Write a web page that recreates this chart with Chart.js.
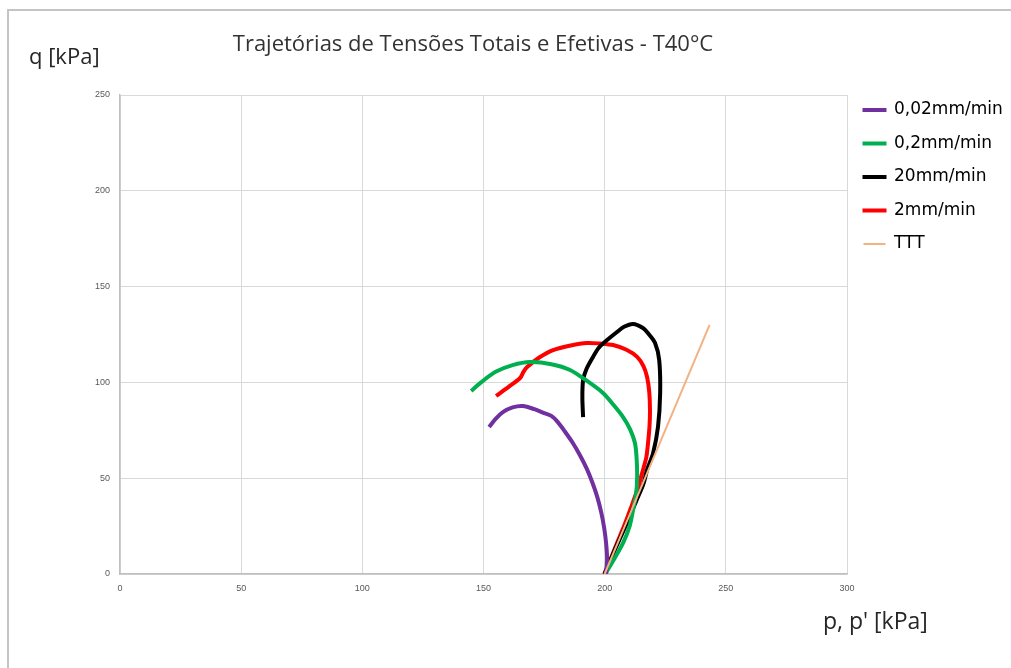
<!DOCTYPE html>
<html>
<head>
<meta charset="utf-8">
<script src="https://cdn.jsdelivr.net/npm/chart.js@4/dist/chart.umd.min.js"></script>
<style>
  html, body { margin: 0; padding: 0; background: #fff; }
  canvas { display: block; }
</style>
</head>
<body>
<canvas id="chart" width="1011" height="668"></canvas>
<script>
// series, as [p, q] in kPa
const series = ['0,02mm/min', '0,2mm/min', '20mm/min', '2mm/min', 'TTT'];
const colors = ['#7030A0', '#00B050', '#000000', '#FF0000', '#F4B183'];

const purple = [[200.6,0],[201,8],[200.6,16],[199.8,24],[198.6,32],[197,40],[195,47.5],[192.6,55],[189.8,62],
  [186.8,68.5],[183.5,74.5],[180.5,79.5],[178,82.5],[175,84],[171,86],[166.3,87.7],[162,87],[158,84.5],[155,81],[152.3,76.7]];
const green = [[200.2,0],[204,8],[207.6,16.2],[210.3,25],[211.7,33.4],[213,42],[213.4,50.6],[213.2,60],[212.5,68.4],
  [210.5,75.5],[207.6,81.9],[203.5,88.5],[199.3,94.5],[193,100.5],[185.7,106.5],[178,109.5],[169.2,110.6],
  [162,109],[155,105.5],[149,100],[144.9,95.5]];
const black = [[200,0],[204,12],[209.2,26.6],[213,38],[216,47],[217.5,54.3],[220,63.2],[222,76.7],[222.9,94.5],
  [222.5,111.7],[220.8,120.6],[218,125.5],[215.8,128.4],[211.7,130.5],[208,129],[205.1,126.3],[201,122.1],
  [197.5,118],[195.2,113.3],[192.5,107],[191.1,101.3],[190.8,92],[191.1,81.9]];
const red = [[199.8,0],[202.5,8],[205.1,16.2],[208,25],[210.5,33.4],[213.5,44],[215.8,54.3],[217.2,61],[217.9,68.4],
  [218.5,77],[218.7,85.6],[218.4,95],[217.5,102.8],[216,108.5],[213.4,113.3],[209,117],[203.5,119.5],[198,120.3],
  [192.7,120.6],[186,119.3],[178.7,116.9],[173,113],[168,108],[166.5,105.5],[165.1,102.3],[160.5,97.8],[155.2,92.9]];
const ttt = [[200,0],[243.3,130]];

const xTicks = [0, 50, 100, 150, 200, 250, 300];
const yTicks = [0, 50, 100, 150, 200, 250];

const allSeries = [purple, green, black, red, ttt];

// frame, title and the two axis captions
const textPlugin = {
  id: 'texts',
  afterLayout(chart) {
    // legend sits a bit above the plot top in the original
    const lg = chart.legend;
    if (lg) { lg.top -= 10; lg.bottom -= 10; }
  },
  beforeDraw(chart) {
    const ctx = chart.ctx;
    ctx.save();
    ctx.fillStyle = '#fff';
    ctx.fillRect(0, 0, chart.width, chart.height);
    ctx.strokeStyle = '#c4c4c4';
    ctx.lineWidth = 2;
    ctx.beginPath();
    ctx.moveTo(8, chart.height);
    ctx.lineTo(8, 10);
    ctx.lineTo(chart.width, 10);
    ctx.stroke();
    ctx.restore();
  },
  afterDraw(chart) {
    const ctx = chart.ctx;
    ctx.save();
    ctx.fillStyle = '#333';
    ctx.textBaseline = 'middle';
    ctx.textAlign = 'center';
    ctx.font = '22px "Open Sans", sans-serif';
    ctx.fillText('Trajetórias de Tensões Totais e Efetivas - T40°C', 473, 45);
    ctx.textAlign = 'left';
    ctx.fillStyle = '#262626';
    ctx.font = '22px "Open Sans", sans-serif';
    ctx.fillText('q [kPa]', 29, 58);
    ctx.font = '23px "Open Sans", sans-serif';
    ctx.fillText("p, p' [kPa]", 823, 622);
    ctx.restore();
  }
};

new Chart(document.getElementById('chart'), {
  type: 'scatter',
  data: {
    datasets: allSeries.map((pts, i) => ({
      label: series[i],
      data: pts.map(([x, y]) => ({ x, y })),
      showLine: true,
      borderColor: colors[i],
      backgroundColor: colors[i],
      borderWidth: i === 4 ? 2 : 4,
      pointRadius: 0,
      tension: 0.3,
      order: i === 4 ? -1 : i
    }))
  },
  options: {
    responsive: false,
    animation: false,
    layout: { padding: { top: 95, left: 0, right: 0, bottom: 0 } },
    plugins: {
      title: { display: false },
      tooltip: { enabled: false },
      legend: {
        position: 'right',
        align: 'start',
        fullSize: false,
        maxWidth: 164,
        labels: {
          boxWidth: 22,
          boxHeight: 2,
          padding: 16.5,
          color: '#262626',
          font: { family: '"DejaVu Sans", sans-serif', size: 17 },
          generateLabels: (chart) => chart.data.datasets.map((ds, i) => ({
            text: ds.label,
            fillStyle: ds.borderColor,
            strokeStyle: ds.borderColor,
            lineWidth: i === 4 ? 0 : 2,
            hidden: false,
            datasetIndex: i
          }))
        }
      }
    },
    scales: {
      x: {
        type: 'linear',
        min: 0, max: 300,
        afterBuildTicks: (axis) => { axis.ticks = xTicks.map(v => ({ value: v })); },
        afterFit: (axis) => { axis.height = 94; },
        grid: { color: '#d9d9d9', drawTicks: false },
        border: { color: '#bfbfbf', width: 1.5 },
        ticks: { color: '#595959', padding: 9, font: { size: 9 } }
      },
      y: {
        type: 'linear',
        min: 0, max: 250,
        afterBuildTicks: (axis) => { axis.ticks = yTicks.map(v => ({ value: v })); },
        afterFit: (axis) => { axis.width = 120; },
        grid: { color: '#d9d9d9', drawTicks: false },
        border: { color: '#bfbfbf', width: 1.5 },
        ticks: { color: '#595959', padding: 10, font: { size: 9 } }
      }
    }
  },
  plugins: [textPlugin]
});
</script>
</body>
</html>
